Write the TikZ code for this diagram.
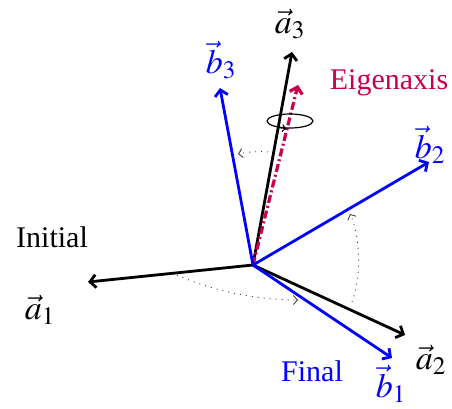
\documentclass[tikz,border=0pt]{standalone}
\usepackage{mathptmx}
\usepackage[no-math]{fontspec}
\setmainfont{Liberation Serif}
\usetikzlibrary{arrows.meta,shapes.geometric}
\definecolor{eigen}{RGB}{200,0,80}
\begin{document}
\begin{tikzpicture}[x=1pt,y=-1pt,
  axisA/.style={line width=2.8pt, -{Straight Barb[length=6pt,width=13pt]}},
  axisB/.style={axisA, blue},
  eigax/.style={line width=3.2pt, eigen, dash pattern=on 8pt off 3pt on 2pt off 3pt, -{Straight Barb[length=6pt,width=13pt]}},
  rotarc/.style={line width=0.9pt, black!75, dash pattern=on 1pt off 5pt, -{Straight Barb[length=4pt,width=9pt]}},
  lbl/.style={font=\fontsize{30}{36}\selectfont, inner sep=0pt},
  vlbl/.style={font=\fontsize{34}{40}\selectfont, inner sep=0pt}]
\useasboundingbox (0,0) rectangle (452,408);
\coordinate (O) at (253,265);
\coordinate (A1) at (88,282);
\coordinate (A2) at (405,335);
\coordinate (A3) at (292,52);
\coordinate (B1) at (392,358);
\coordinate (B2) at (429,162);
\coordinate (B3) at (220,88);
\coordinate (E) at (298,85);
% initial frame
\draw[axisA] (O) -- (A1);
\draw[axisA] (O) -- (A2);
\draw[axisA] (O) -- (A3);
% eigenaxis
\draw[eigax] (O) -- (E);
% final frame
\draw[axisB] (O) -- (B1);
\draw[axisB] (O) -- (B2);
\draw[axisB] (O) -- (B3);
% rotation ellipse
\node[draw, ellipse, line width=1.2pt, minimum width=46pt, minimum height=14pt, inner sep=0pt] (rot) at (290,121) {};
\draw[line width=1pt, -{Straight Barb[length=3pt,width=7pt]}] ([xshift=-12pt,yshift=1pt]rot.south) -- ([xshift=-4pt]rot.south);
% rotation arcs
\coordinate (r1s) at (177,275);
\coordinate (r1e) at (298,300);
\coordinate (r2s) at (352,302);
\coordinate (r2e) at (350,214);
\coordinate (r3s) at (268,152);
\coordinate (r3e) at (238,154);
\draw[rotarc] (r1s) .. controls (215,292) and (260,300) .. (r1e);
\draw[rotarc] (r2s) .. controls (362,275) and (360,235) .. (r2e);
\draw[rotarc] (r3s) .. controls (258,151) and (248,152) .. (r3e);
% labels
\node[vlbl] (la1) at (40,310) {$\vec{a}_1$};
\node[vlbl] (la2) at (431,360) {$\vec{a}_2$};
\node[vlbl] (la3) at (290,24) {$\vec{a}_3$};
\node[vlbl, blue] (lb1) at (391,384) {$\vec{b}_1$};
\node[vlbl, blue] (lb2) at (430,145) {$\vec{b}_2$};
\node[vlbl, blue] (lb3) at (221,60) {$\vec{b}_3$};
\node[lbl] (init) at (52,237) {Initial};
\node[lbl, blue] (fin) at (312,371) {Final};
\node[lbl, eigen] (eig) at (389,83) {Eigenaxis};
\end{tikzpicture}
\end{document}
